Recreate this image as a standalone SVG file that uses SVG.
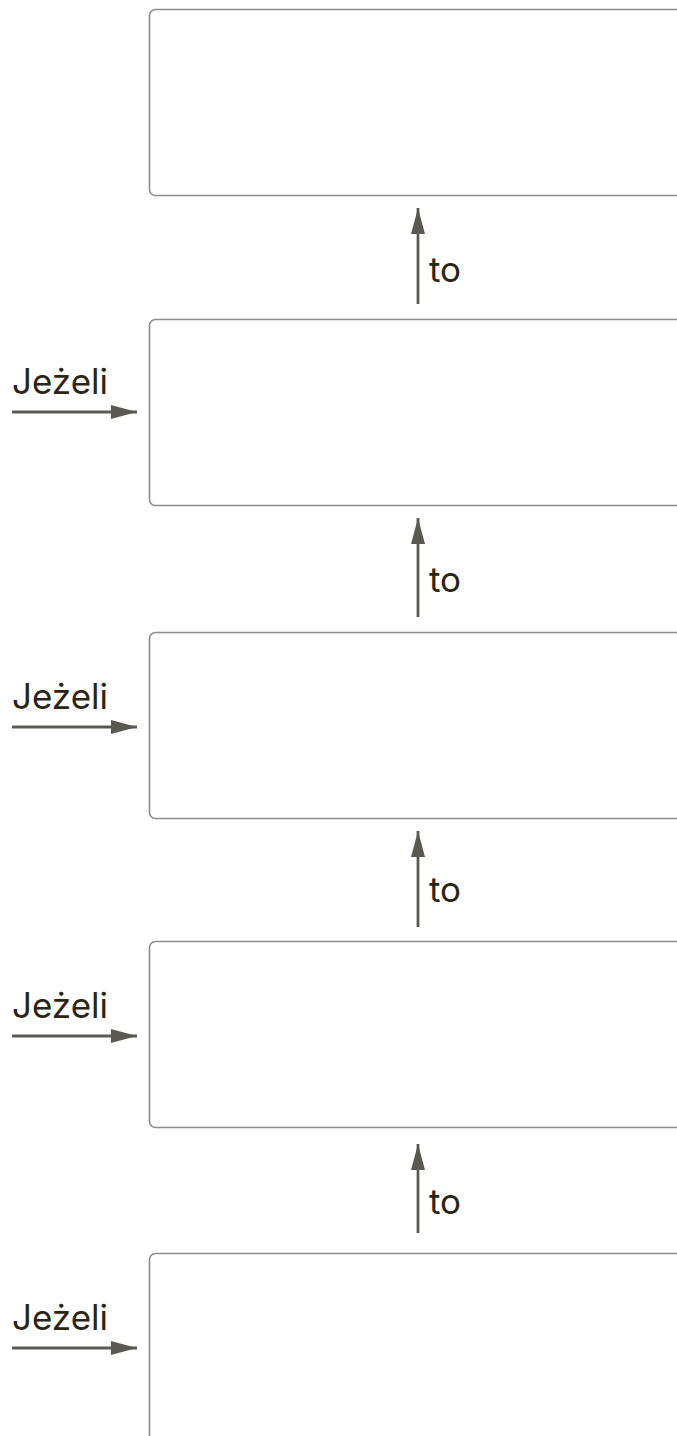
<svg xmlns="http://www.w3.org/2000/svg" width="677" height="1436" viewBox="0 0 677 1436">
<defs>
<marker id="ah" markerWidth="26" markerHeight="16" refX="26" refY="8" orient="auto" markerUnits="userSpaceOnUse">
<path d="M0,1 L26,8 L0,15 Z" fill="#5b5a52"/>
</marker>
<style>
.box{fill:#fff;stroke:#8c8c8c;stroke-width:1.6}
.edge{stroke:#5b5a52;stroke-width:2.8;fill:none;marker-end:url(#ah)}
.lbl{font-family:Inter,"Liberation Sans",sans-serif;font-size:35px;fill:#2b2516}
</style>
</defs>
<rect width="677" height="1436" fill="#fff"/>
<g id="node1"><rect class="box" x="149.5" y="9.5" width="560" height="186" rx="6"/></g>
<g id="node2"><rect class="box" x="149.5" y="319.5" width="560" height="186" rx="6"/></g>
<g id="node3"><rect class="box" x="149.5" y="632.5" width="560" height="186" rx="6"/></g>
<g id="node4"><rect class="box" x="149.5" y="941.5" width="560" height="186" rx="6"/></g>
<g id="node5"><rect class="box" x="149.5" y="1253.5" width="560" height="260" rx="6"/></g>
<g id="connectors">
<line class="edge" x1="418" y1="304" x2="418" y2="208"/>
<text class="lbl" x="429" y="282">to</text>
<line class="edge" x1="418" y1="617" x2="418" y2="518"/>
<text class="lbl" x="429" y="592">to</text>
<line class="edge" x1="418" y1="927" x2="418" y2="831"/>
<text class="lbl" x="429" y="902">to</text>
<line class="edge" x1="418" y1="1233" x2="418" y2="1144"/>
<text class="lbl" x="429" y="1214">to</text>
<line class="edge" x1="12" y1="412" x2="137" y2="412"/>
<text class="lbl" x="12" y="394">Jeżeli</text>
<line class="edge" x1="12" y1="727" x2="137" y2="727"/>
<text class="lbl" x="12" y="709">Jeżeli</text>
<line class="edge" x1="12" y1="1036" x2="137" y2="1036"/>
<text class="lbl" x="12" y="1018">Jeżeli</text>
<line class="edge" x1="12" y1="1348" x2="137" y2="1348"/>
<text class="lbl" x="12" y="1330">Jeżeli</text>
</g>
</svg>
